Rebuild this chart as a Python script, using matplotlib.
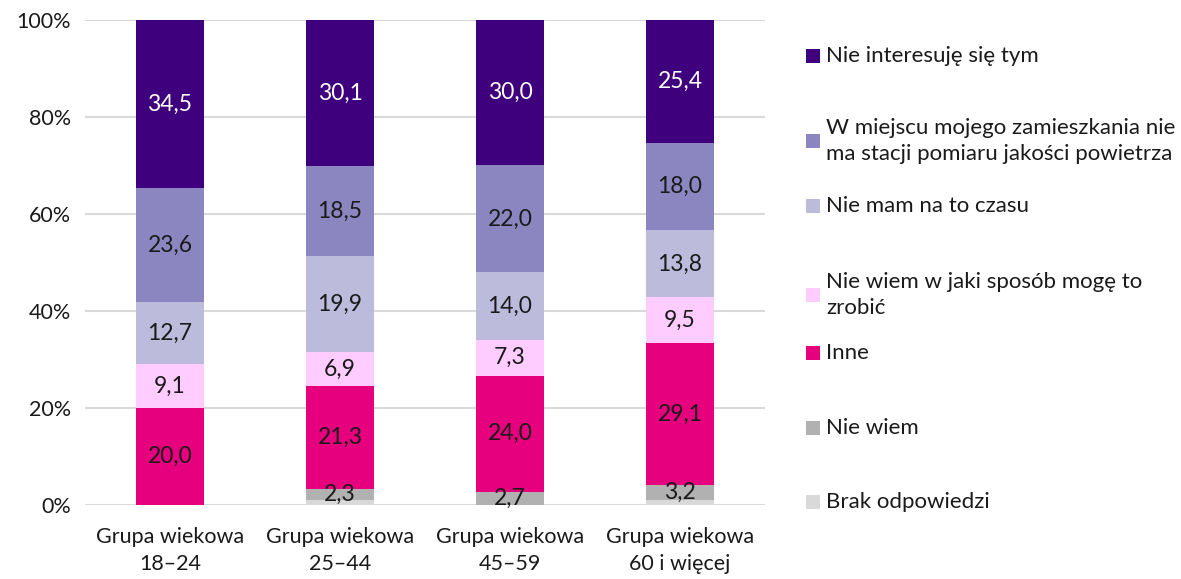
import matplotlib.pyplot as plt
from matplotlib.patches import Rectangle

plt.rcParams['font.family'] = ['Lato', 'DejaVu Sans']

grupy = ["Grupa wiekowa\n18–24", "Grupa wiekowa\n25–44",
         "Grupa wiekowa\n45–59", "Grupa wiekowa\n60 i więcej"]

# od dołu słupka do góry
kategorie = ["Brak odpowiedzi", "Nie wiem", "Inne",
             "Nie wiem w jaki sposób mogę to\nzrobić",
             "Nie mam na to czasu",
             "W miejscu mojego zamieszkania nie\nma stacji pomiaru jakości powietrza",
             "Nie interesuję się tym"]
brak = [0.0, 1.0, 0.0, 1.0]
nie_wiem = [0.0, 2.3, 2.7, 3.2]
inne = [20.0, 21.3, 24.0, 29.1]
nie_wiem_jak = [9.1, 6.9, 7.3, 9.5]
brak_czasu = [12.7, 19.9, 14.0, 13.8]
brak_stacji = [23.6, 18.5, 22.0, 18.0]
nie_interesuje = [34.5, 30.1, 30.0, 25.4]

serie = [brak, nie_wiem, inne, nie_wiem_jak, brak_czasu, brak_stacji, nie_interesuje]
kolory = ["#D9D9D9", "#B1B1B1", "#E6007E", "#FFCCFF", "#BCBBDC", "#8C86C0", "#3F007D"]
kolor_tekstu = ["#1a1a1a"] * 6 + ["white"]

fig = plt.figure(figsize=(11.81, 5.79), dpi=100)
ax = fig.add_axes([85 / 1181, 74 / 579, 680 / 1181, 485 / 579])

x = range(len(grupy))
dol = [0.0] * len(grupy)
for vals, kol, tk in zip(serie, kolory, kolor_tekstu):
    bars = ax.bar(x, vals, bottom=dol, width=0.4, color=kol, zorder=2)
    for b, v, d in zip(bars, vals, dol):
        if v >= 2:
            ax.text(b.get_x() + b.get_width() / 2, d + v / 2,
                    f"{v:.1f}".replace(".", ","), ha="center", va="center",
                    fontsize=16.5, color=tk, zorder=3)
    dol = [d + v for d, v in zip(dol, vals)]

ax.set_xlim(-0.5, len(grupy) - 0.5)
ax.set_ylim(0, 100)
ax.set_yticks(range(0, 101, 20))
ax.set_yticklabels([f"{t}%" for t in range(0, 101, 20)], fontsize=15.5, color="#1a1a1a")
ax.set_xticks(list(x))
ax.set_xticklabels(grupy, fontsize=15.5, color="#1a1a1a", linespacing=1.45)
ax.tick_params(length=0, pad=10)
ax.tick_params(axis="x", pad=16)
ax.grid(axis="y", color="#D9D9D9", linewidth=1.5, zorder=0)
for s in ax.spines.values():
    s.set_visible(False)

# legenda
leg_y = [56, 141, 206, 295, 353, 428, 502]
for kat, kol, yy in zip(reversed(kategorie), reversed(kolory), leg_y):
    fig.patches.append(Rectangle((806 / 1181, 1 - (yy + 7) / 579), 14 / 1181, 14 / 579,
                                 transform=fig.transFigure, facecolor=kol,
                                 edgecolor="none"))
    fig.text(826 / 1181, 1 - yy / 579, kat, fontsize=16, color="#1a1a1a",
             va="center", ha="left", linespacing=1.4)

fig.savefig("out.png", dpi=100)
